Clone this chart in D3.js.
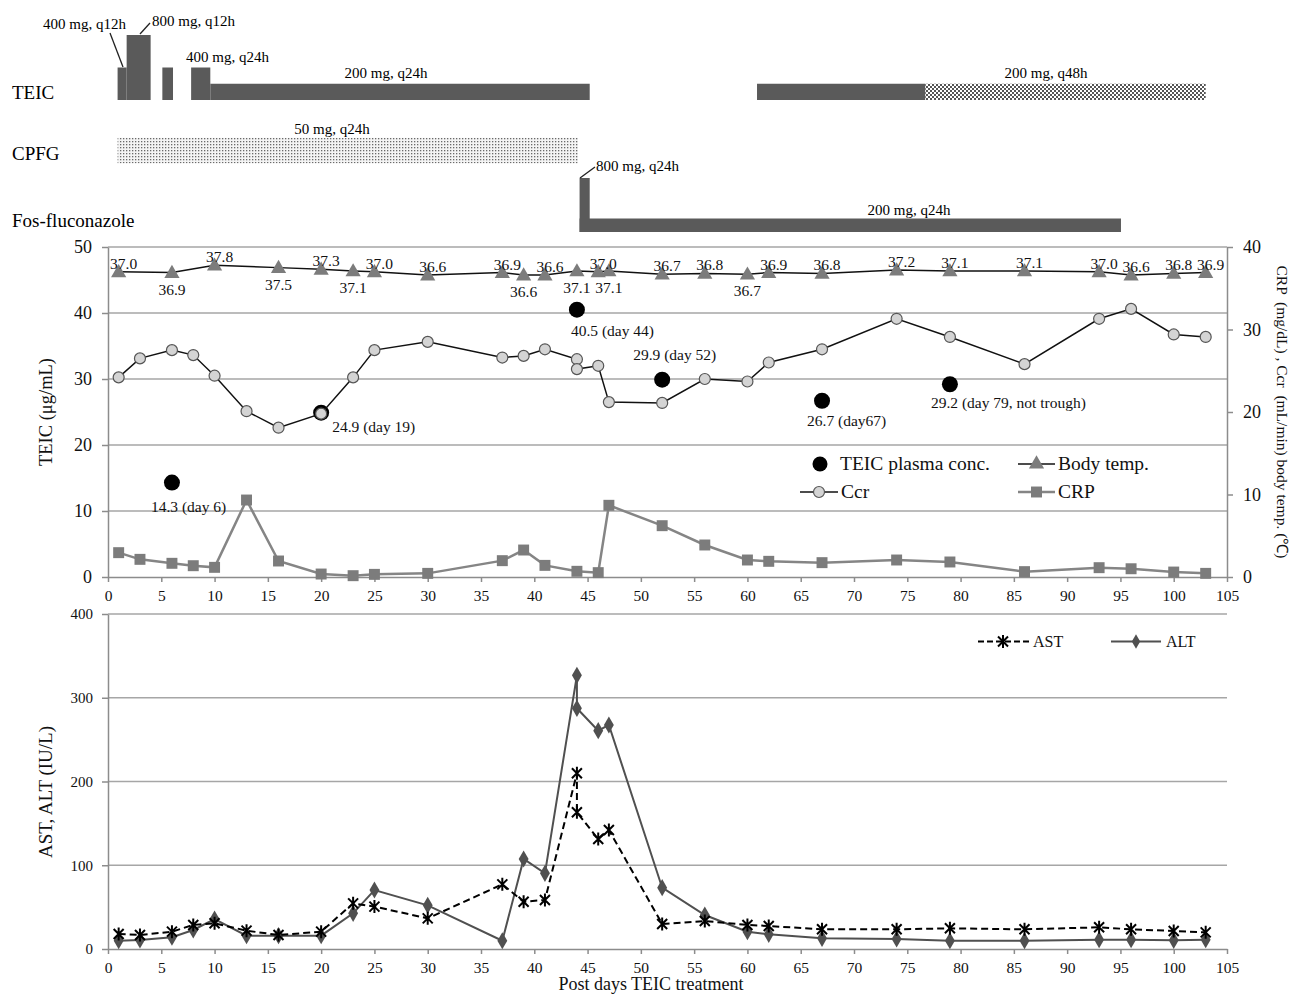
<!DOCTYPE html>
<html><head><meta charset="utf-8">
<script src="https://cdn.jsdelivr.net/npm/d3@7/dist/d3.min.js"></script>
<style>
body{margin:0;background:#fff;}
svg{font-family:"Liberation Serif","Times New Roman",serif;display:block;}
</style>
</head><body>
<svg id="c" width="1292" height="996"></svg>
<script>
// ---------------- DATA ----------------
const dayTicks = [0,5,10,15,20,25,30,35,40,45,50,55,60,65,70,75,80,85,90,95,100,105];
const leftTicks = [0,10,20,30,40,50];
const rightTicks = [0,10,20,30,40];
const liverTicks = [0,100,200,300,400];

// Dosing regimens (days, mg)
const teicStart = [0.9, 1.75, 5.1, 7.8, 9.6, 60.9, 76.7];
const teicEnd   = [1.75, 4.0, 6.1, 9.6, 45.2, 76.7, 103.0];
const teicMg    = [400, 800, 400, 400, 200, 200, 200];
const cpfgStart = [0.9];
const cpfgEnd   = [44.1];
const cpfgMg    = [50];
const fosStart  = [44.25, 44.25];
const fosEnd    = [45.2, 95.05];
const fosMg     = [800, 200];
const doseLabels = ["400 mg, q12h","800 mg, q12h","400 mg, q24h","200 mg, q24h","200 mg, q48h","50 mg, q24h","800 mg, q24h","200 mg, q24h"];
const rowLabels = ["TEIC","CPFG","Fos-fluconazole"];

// Body temperature
const tempDays = [1,6,10,16,20,23,25,30,37,39,41,44,46,47,52,56,60,62,67,74,79,86,93,96,100,103];
const tempVals = [37.0,36.9,37.8,37.5,37.3,37.1,37.0,36.6,36.9,36.6,36.6,37.1,37.0,37.1,36.7,36.8,36.7,36.9,36.8,37.2,37.1,37.1,37.0,36.6,36.8,36.9];

// Creatinine clearance
const ccrDays = [1,3,6,8,10,13,16,20,23,25,30,37,39,41,44,44,46,47,52,56,60,62,67,74,79,86,93,96,100,103];
const ccrVals = [24.2,26.5,27.5,26.9,24.4,20.1,18.1,19.8,24.2,27.5,28.5,26.6,26.8,27.6,26.4,25.2,25.6,21.2,21.1,24.0,23.7,26.0,27.6,31.3,29.1,25.8,31.3,32.5,29.4,29.1];

// CRP
const crpDays = [1,3,6,8,10,13,16,20,23,25,30,37,39,41,44,46,47,52,56,60,62,67,74,79,86,93,96,100,103];
const crpVals = [2.95,2.14,1.66,1.37,1.17,9.33,1.94,0.36,0.16,0.32,0.44,1.98,3.27,1.41,0.69,0.53,8.69,6.22,3.88,2.06,1.9,1.74,2.06,1.82,0.65,1.13,1.0,0.6,0.44];

// TEIC plasma concentration
const teicDays = [6,20,44,52,67,79];
const teicConc = [14.3,24.9,40.5,29.9,26.7,29.2];
const teicText = ["14.3 (day 6)","24.9 (day 19)","40.5 (day 44)","29.9 (day 52)","26.7 (day67)","29.2 (day 79, not trough)"];

// AST / ALT
const labDays = [1,3,6,8,10,13,16,20,23,25,30,37,39,41,44,44,46,47,52,56,60,62,67,74,79,86,93,96,100,103];
const astVals = [17.9,16.7,20.7,28.7,30.7,21.9,16.7,20.7,54.5,50.6,36.6,77.2,56.5,58.5,209.8,163.2,131.3,142.1,29.9,33.4,28.7,27.5,23.5,23.5,24.7,23.5,25.9,23.5,21.5,19.9];
const altVals = [9.9,10.7,14.0,22.7,35.8,15.9,15.9,15.9,42.6,70.4,52.1,9.9,107.5,90.3,326.8,287.4,260.7,267.5,73.2,40.6,20.7,17.5,12.7,11.9,9.9,9.9,11.1,11.1,10.3,11.1];

// ---------------- STYLE / LAYOUT ----------------
const barCol = "#5a5a5a", gridCol = "#a6a6a6", axisCol = "#8c8c8c";
const tempLabelBelow = [0,1,0,1,0,1,0,0,0,1,0,1,0,1,0,0,1,0,0,0,0,0,0,0,0,0];
const teicLabelOff = [[-21,29],[11,19],[-6,26],[-29,-20],[-15,25],[-19,24]];
const teicHatched = [0,0,0,0,0,0,1];

const svg = d3.select("#c");
const x = d3.scaleLinear().domain([0,105]).range([108,1227]);
const yL = d3.scaleLinear().domain([0,50]).range([577,247]);
const yR = d3.scaleLinear().domain([0,40]).range([577,247]);
const yB = d3.scaleLinear().domain([0,400]).range([949,614]);
const hTeic = d3.scaleLinear().domain([0,800]).range([0,65]);
const hFos = d3.scaleLinear().domain([0,800]).range([0,54]);
const hCpfg = d3.scaleLinear().domain([0,50]).range([0,25.5]);

// patterns
const defs = svg.append("defs");
const pDots = defs.append("pattern").attr("id","dots").attr("width",3).attr("height",3).attr("patternUnits","userSpaceOnUse");
pDots.append("rect").attr("width",3).attr("height",3).attr("fill","#f4f4f4");
pDots.append("rect").attr("x",0).attr("y",0).attr("width",1.3).attr("height",1.3).attr("fill","#6a6a6a");
const pChk = defs.append("pattern").attr("id","chk").attr("width",4).attr("height",4).attr("patternUnits","userSpaceOnUse");
pChk.append("rect").attr("width",4).attr("height",4).attr("fill","#ffffff");
pChk.append("rect").attr("width",2).attr("height",2).attr("fill","#555");
pChk.append("rect").attr("x",2).attr("y",2).attr("width",2).attr("height",2).attr("fill","#555");

// ---------------- DOSING PANEL ----------------
const dose = svg.append("g");
const teicBase = 100, fosBase = 232, cpfgBase = 163.3;
teicStart.forEach((s,i)=>{
  dose.append("rect").attr("x",x(s)).attr("width",x(teicEnd[i])-x(s))
    .attr("y",teicBase-hTeic(teicMg[i])).attr("height",hTeic(teicMg[i]))
    .attr("fill",teicHatched[i]?"url(#chk)":barCol);
});
cpfgStart.forEach((s,i)=>{
  dose.append("rect").attr("x",x(s)).attr("width",x(cpfgEnd[i])-x(s))
    .attr("y",cpfgBase-hCpfg(cpfgMg[i])).attr("height",hCpfg(cpfgMg[i]))
    .attr("fill","url(#dots)");
});
fosStart.forEach((s,i)=>{
  dose.append("rect").attr("x",x(s)).attr("width",x(fosEnd[i])-x(s))
    .attr("y",fosBase-hFos(fosMg[i])).attr("height",hFos(fosMg[i]))
    .attr("fill",barCol);
});
const rowY = [99,160,227];
rowLabels.forEach((t,i)=>dose.append("text").attr("x",12).attr("y",rowY[i]).attr("font-size",19).text(t));
const dl = [
  {x:43,y:29,a:"start"},{x:152,y:26,a:"start"},{x:186,y:62,a:"start"},{x:386,y:78,a:"middle"},
  {x:1046,y:78,a:"middle"},{x:332,y:134,a:"middle"},{x:596,y:171,a:"start"},{x:909,y:215,a:"middle"}];
doseLabels.forEach((t,i)=>dose.append("text").attr("x",dl[i].x).attr("y",dl[i].y)
  .attr("text-anchor",dl[i].a).attr("font-size",15).text(t));
// leader lines
[[110,33,123,67],[140,34,150,23],[580,178,595,167]].forEach(l=>
  dose.append("line").attr("x1",l[0]).attr("y1",l[1]).attr("x2",l[2]).attr("y2",l[3])
    .attr("stroke","#222").attr("stroke-width",1.3));

// ---------------- MIDDLE CHART ----------------
const mid = svg.append("g");
mid.selectAll(".g1").data(leftTicks.filter(d=>d>0)).join("line")
  .attr("x1",x(0)).attr("x2",x(105)).attr("y1",d=>yL(d)).attr("y2",d=>yL(d))
  .attr("stroke",gridCol).attr("stroke-width",1.5);

function styleAxis(g, fs){
  g.select(".domain").attr("stroke",axisCol).attr("stroke-width",1.5);
  g.selectAll(".tick line").attr("stroke",axisCol).attr("stroke-width",1.5);
  g.selectAll(".tick text").attr("fill","#111").attr("font-size",fs)
    .attr("font-family",'"Liberation Serif","Times New Roman",serif');
}
const axL = mid.append("g").attr("transform",`translate(${x(0)},0)`)
  .call(d3.axisLeft(yL).tickValues(leftTicks).tickSize(6).tickPadding(10).tickSizeOuter(0));
styleAxis(axL,18);
const axR = mid.append("g").attr("transform",`translate(${x(105)},0)`)
  .call(d3.axisRight(yR).tickValues(rightTicks).tickSize(6).tickPadding(10).tickSizeOuter(0));
styleAxis(axR,18);
const axX = mid.append("g").attr("transform",`translate(0,${yL(0)})`)
  .call(d3.axisBottom(x).tickValues(dayTicks).tickSize(5).tickPadding(8).tickSizeOuter(0));
styleAxis(axX,15.5);

// CRP
const lineCRP = d3.line().x((d,i)=>x(crpDays[i])).y(d=>yR(d));
mid.append("path").attr("d",lineCRP(crpVals)).attr("fill","none").attr("stroke","#858585").attr("stroke-width",2.5);
mid.selectAll(".crp").data(crpVals).join("path")
  .attr("transform",(d,i)=>`translate(${x(crpDays[i])},${yR(d)})`)
  .attr("d",d3.symbol(d3.symbolSquare,120)()).attr("fill","#7c7c7c");

// Body temp
const lineT = d3.line().x((d,i)=>x(tempDays[i])).y(d=>yR(d));
mid.append("path").attr("d",lineT(tempVals)).attr("fill","none").attr("stroke","#111").attr("stroke-width",1.5);
mid.selectAll(".tmp").data(tempVals).join("path")
  .attr("transform",(d,i)=>`translate(${x(tempDays[i])},${yR(d)+1})`)
  .attr("d",d3.symbol(d3.symbolTriangle,100)()).attr("fill","#7c7c7c");
mid.selectAll(".tl").data(tempVals).join("text")
  .attr("x",(d,i)=>x(tempDays[i])+(tempLabelBelow[i]?0:5))
  .attr("y",(d,i)=>yR(d)+(tempLabelBelow[i]?22:-3))
  .attr("text-anchor","middle").attr("font-size",15.5).attr("fill","#111")
  .text(d=>d.toFixed(1));

// TEIC plasma conc
mid.selectAll(".tc").data(teicConc).join("circle")
  .attr("cx",(d,i)=>x(teicDays[i])).attr("cy",d=>yL(d)).attr("r",8).attr("fill","#000");
mid.selectAll(".tct").data(teicConc).join("text")
  .attr("x",(d,i)=>x(teicDays[i])+teicLabelOff[i][0]).attr("y",(d,i)=>yL(d)+teicLabelOff[i][1])
  .attr("font-size",15.5).attr("fill","#111").text((d,i)=>teicText[i]);

// Ccr
const lineC = d3.line().x((d,i)=>x(ccrDays[i])).y(d=>yR(d));
mid.append("path").attr("d",lineC(ccrVals)).attr("fill","none").attr("stroke","#111").attr("stroke-width",1.5);
mid.selectAll(".cc").data(ccrVals).join("circle")
  .attr("cx",(d,i)=>x(ccrDays[i])).attr("cy",d=>yR(d)).attr("r",5.5)
  .attr("fill","#d4d4d4").attr("stroke","#555").attr("stroke-width",1.2);

// Middle legend
const lg = mid.append("g").attr("font-size",19.5).attr("fill","#111");
lg.append("circle").attr("cx",820).attr("cy",464).attr("r",7.5).attr("fill","#000");
lg.append("text").attr("x",840).attr("y",470).text("TEIC plasma conc.");
lg.append("line").attr("x1",1018).attr("x2",1055).attr("y1",464).attr("y2",464).attr("stroke","#111").attr("stroke-width",1.5);
lg.append("path").attr("transform","translate(1036.5,464)").attr("d",d3.symbol(d3.symbolTriangle,100)()).attr("fill","#7c7c7c");
lg.append("text").attr("x",1058).attr("y",470).text("Body temp.");
lg.append("line").attr("x1",800).attr("x2",838).attr("y1",492).attr("y2",492).attr("stroke","#111").attr("stroke-width",1.5);
lg.append("circle").attr("cx",819).attr("cy",492).attr("r",5.5).attr("fill","#d4d4d4").attr("stroke","#555").attr("stroke-width",1.2);
lg.append("text").attr("x",841).attr("y",498).text("Ccr");
lg.append("line").attr("x1",1018).attr("x2",1055).attr("y1",492).attr("y2",492).attr("stroke","#858585").attr("stroke-width",2.5);
lg.append("path").attr("transform","translate(1036.5,492)").attr("d",d3.symbol(d3.symbolSquare,120)()).attr("fill","#7c7c7c");
lg.append("text").attr("x",1058).attr("y",498).text("CRP");

// axis titles
mid.append("text").attr("transform","translate(52,412) rotate(-90)").attr("text-anchor","middle")
  .attr("font-size",18.5).attr("fill","#111").text("TEIC (μg/mL)");
mid.append("text").attr("transform","translate(1277,412) rotate(90)").attr("text-anchor","middle")
  .attr("font-size",15.5).attr("fill","#111").text("CRP  (mg/dL) , Ccr  (mL/min) body temp. (℃)")
  .style("white-space","pre");

// ---------------- BOTTOM CHART ----------------
const bot = svg.append("g");
bot.selectAll(".g2").data(liverTicks.filter(d=>d>0)).join("line")
  .attr("x1",x(0)).attr("x2",x(105)).attr("y1",d=>yB(d)).attr("y2",d=>yB(d))
  .attr("stroke",gridCol).attr("stroke-width",1.5);
const axB = bot.append("g").attr("transform",`translate(${x(0)},0)`)
  .call(d3.axisLeft(yB).tickValues(liverTicks).tickSize(6).tickPadding(9).tickSizeOuter(0));
styleAxis(axB,15);
const axBX = bot.append("g").attr("transform",`translate(0,${yB(0)})`)
  .call(d3.axisBottom(x).tickValues(dayTicks).tickSize(5).tickPadding(8).tickSizeOuter(0));
styleAxis(axBX,15.5);

const lineALT = d3.line().x((d,i)=>x(labDays[i])).y(d=>yB(d));
bot.append("path").attr("d",lineALT(altVals)).attr("fill","none").attr("stroke","#505050").attr("stroke-width",2);
bot.selectAll(".alt").data(altVals).join("path")
  .attr("transform",(d,i)=>`translate(${x(labDays[i])},${yB(d)})`)
  .attr("d",d3.symbol(d3.symbolDiamond,85)()).attr("fill","#505050");
const lineAST = d3.line().x((d,i)=>x(labDays[i])).y(d=>yB(d));
bot.append("path").attr("d",lineAST(astVals)).attr("fill","none").attr("stroke","#000").attr("stroke-width",2).attr("stroke-dasharray","7,4");
const star = "M-5,-5L5,5M-5,5L5,-5M0,-6.5L0,6.5";
bot.selectAll(".ast").data(astVals).join("path")
  .attr("transform",(d,i)=>`translate(${x(labDays[i])},${yB(d)})`)
  .attr("d",star).attr("stroke","#000").attr("stroke-width",2).attr("fill","none");

// bottom legend
const lg2 = bot.append("g").attr("font-size",16).attr("fill","#111");
lg2.append("line").attr("x1",978).attr("x2",1029).attr("y1",641.5).attr("y2",641.5).attr("stroke","#000").attr("stroke-width",2).attr("stroke-dasharray","6,3");
lg2.append("path").attr("transform","translate(1003,641.5)").attr("d",star).attr("stroke","#000").attr("stroke-width",2).attr("fill","none");
lg2.append("text").attr("x",1033).attr("y",647).text("AST");
lg2.append("line").attr("x1",1111).attr("x2",1161).attr("y1",641.5).attr("y2",641.5).attr("stroke","#505050").attr("stroke-width",2);
lg2.append("path").attr("transform","translate(1136,641.5)").attr("d",d3.symbol(d3.symbolDiamond,60)()).attr("fill","#505050");
lg2.append("text").attr("x",1166).attr("y",647).text("ALT");

bot.append("text").attr("transform","translate(52,792) rotate(-90)").attr("text-anchor","middle")
  .attr("font-size",19).attr("fill","#111").text("AST, ALT (IU/L)");
bot.append("text").attr("x",651).attr("y",990).attr("text-anchor","middle")
  .attr("font-size",18).attr("fill","#111").text("Post days TEIC treatment");
</script>
</body></html>
